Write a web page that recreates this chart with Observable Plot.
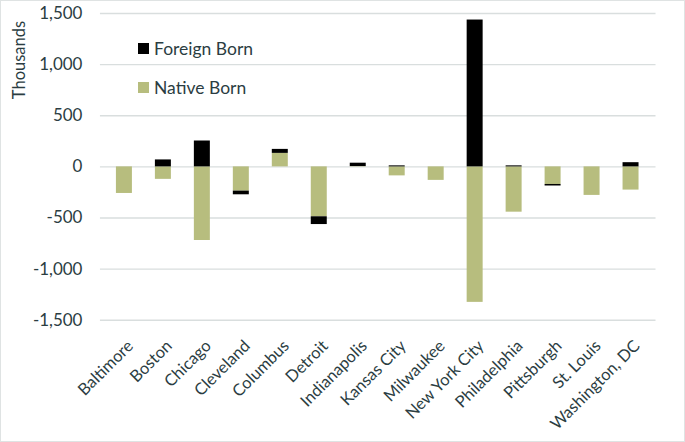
<!DOCTYPE html>
<html>
<head>
<meta charset="utf-8">
<script src="https://cdn.jsdelivr.net/npm/d3@7"></script>
<script src="https://cdn.jsdelivr.net/npm/@observablehq/plot@0.6"></script>
<style>
  html, body { margin: 0; padding: 0; background: #fff; }
  #wrap { position: relative; width: 685px; height: 442px; box-sizing: border-box; border: 1.5px solid #dfe3e3; overflow: hidden; font-family: Lato, "Open Sans", sans-serif; }
  #chart { position: absolute; left: -1.5px; top: -1.5px; }
  #ylabel { position: absolute; left: 18px; top: 59px; transform: translate(-50%, -50%) rotate(-90deg); font-size: 16.5px; color: #2b3d42; white-space: nowrap; }
  .leg { position: absolute; left: 137px; font-size: 17.5px; color: #2b3d42; display: flex; align-items: center; white-space: nowrap; }
  .leg span.sw { display: inline-block; width: 11px; height: 11px; margin-right: 5px; }
</style>
</head>
<body>
<div id="wrap">
  <div id="chart"></div>
  <div id="ylabel">Thousands</div>
  <div class="leg" style="top:37px"><span class="sw" style="background:#000"></span>Foreign Born</div>
  <div class="leg" style="top:76px"><span class="sw" style="background:#b7bd7e"></span>Native Born</div>
</div>
<script>
const cities = ["Baltimore","Boston","Chicago","Cleveland","Columbus","Detroit","Indianapolis","Kansas City","Milwaukee","New York City","Philadelphia","Pittsburgh","St. Louis","Washington, DC"];
const nativeBorn  = [-260, -122, -720, -237, 132, -488, 3, -88, -132, -1325, -443, -172, -279, -227];
const foreignBorn = [0, 68, 253, -36, 39, -76, 33, 10, 0, 1436, 10, -15, 0, 41];
const yTicks = [-1500, -1000, -500, 0, 500, 1000, 1500];
const seriesNames = ["Native Born", "Foreign Born"];
const seriesColors = ["#b7bd7e", "#000000"];

const rows = [
  ...cities.map((c, i) => ({city: c, type: seriesNames[0], value: nativeBorn[i]})),
  ...cities.map((c, i) => ({city: c, type: seriesNames[1], value: foreignBorn[i]}))
];

const fmt = d3.formatLocale({decimal: ".", thousands: ",", grouping: [3], currency: ["$", ""], minus: "-"}).format(",");
const textColor = "#2b3d42";

const chart = Plot.plot({
  width: 685,
  height: 442,
  marginTop: 13,
  marginBottom: 122,
  marginLeft: 100,
  marginRight: 29,
  style: {fontFamily: "Lato, 'Open Sans', sans-serif", background: "white"},
  x: {domain: cities, paddingInner: 0.58, paddingOuter: 0.29, align: 0.5, label: null},
  y: {domain: [-1500, 1500], label: null},
  color: {domain: seriesNames, range: seriesColors},
  marks: [
    Plot.gridY(yTicks, {stroke: "#d9dede", strokeOpacity: 1, strokeWidth: 1.3}),
    Plot.barY(rows, Plot.stackY({x: "city", y: "value", fill: "type", z: "type", order: seriesNames})),
    Plot.axisY(yTicks, {tickSize: 0, tickPadding: 18, tickFormat: fmt, fontSize: 17, fill: textColor, label: null}),
    Plot.axisX({tickSize: 0, tickRotate: -45, fontSize: 16.5, fill: textColor, label: null, tickPadding: 23, dx: 6})
  ]
});
document.getElementById("chart").appendChild(chart);
</script>
</body>
</html>
